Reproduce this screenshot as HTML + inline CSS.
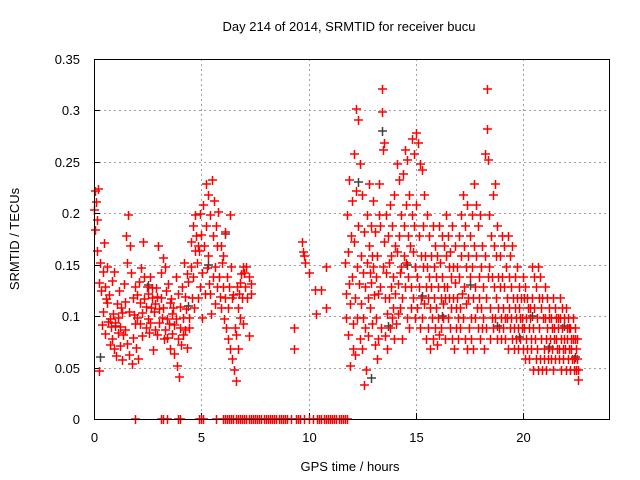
<!DOCTYPE html>
<html><head><meta charset="utf-8"><style>
body{margin:0;background:#fff}
svg{display:block;font-family:"Liberation Sans",sans-serif}
</style></head><body>
<svg id="chart" width="640" height="480" xmlns="http://www.w3.org/2000/svg">
<rect width="640" height="480" fill="#fff"/>
<text x="349" y="31" font-size="13" text-anchor="middle">Day 214 of 2014, SRMTID for receiver bucu</text>
<text x="0" y="0" font-size="13" text-anchor="middle" transform="translate(19,239) rotate(-90)">SRMTID / TECUs</text>
<text x="350" y="471" font-size="13" text-anchor="middle">GPS time / hours</text>
<g id="grid"></g>
<g id="ticks"></g>
<g id="gray"></g>
<g id="red"></g>
<rect x="94.5" y="59.5" width="515" height="360" fill="none" stroke="#000" stroke-width="1"/>
</svg>
<script>
const xTicks=[0,5,10,15,20];
const yTicks=[0,0.05,0.1,0.15,0.2,0.25,0.3,0.35];
const yTickLabels=["0","0.05","0.1","0.15","0.2","0.25","0.3","0.35"];
const binTimes=[0.0,0.1,0.2,0.3,0.4,0.5,0.6,0.7,0.8,0.9,1.0,1.1,1.2,1.3,1.4,1.5,1.6,1.7,1.8,1.9,2.0,2.1,2.2,2.3,2.4,2.5,2.6,2.7,2.8,2.9,3.0,3.1,3.2,3.3,3.4,3.5,3.6,3.7,3.8,3.9,4.0,4.1,4.2,4.3,4.4,4.5,4.6,4.7,4.8,4.9,5.0,5.1,5.2,5.3,5.4,5.5,5.6,5.7,5.8,5.9,6.0,6.1,6.2,6.3,6.4,6.5,6.6,6.7,6.8,6.9,7.0,7.1,7.2,7.3,
9.3,9.7,9.8,10.0,10.3,10.6,10.8,
11.7,11.8,11.9,12.0,12.1,12.2,12.3,12.4,12.5,12.6,12.7,12.8,12.9,13.0,13.1,13.2,13.3,13.4,13.5,13.6,13.7,13.8,13.9,14.0,14.1,14.2,14.3,14.4,14.5,14.6,14.7,14.8,14.9,15.0,15.1,15.2,15.3,15.4,15.5,15.6,15.7,15.8,15.9,16.0,16.1,16.2,16.3,16.4,16.5,16.6,16.7,16.8,16.9,17.0,17.1,17.2,17.3,17.4,17.5,17.6,17.7,17.8,17.9,18.0,18.1,18.2,18.3,18.4,18.5,18.6,18.7,18.8,18.9,19.0,19.1,19.2,19.3,19.4,19.5,19.6,19.7,19.8,19.9,20.0,20.1,20.2,20.3,20.4,20.5,20.6,20.7,20.8,20.9,21.0,21.1,21.2,21.3,21.4,21.5,21.6,21.7,21.8,21.9,22.0,22.1,22.2,22.3,22.4,22.5];
const binValues=[
[.203,.184,.222],[.211,.193,.163],[.224,.047,.132],[.152,.124,.091],[.143,.104,.171],[.128,.083,.117],[.113,.148,.094],[.121,.097,.072],[.089,.134,.078],[.102,.068,.143],
[.093,.061,.112],[.084,.098,.124],[.071,.089,.108],[.103,.057,.082],[.131,.087,.114],[.178,.152,.073],[.198,.104,.062],[.168,.142,.053],[.118,.079,.101],[.092,.128,.069],
[.098,.121,.058],[.133,.092,.113],[.147,.103,.081],[.172,.117,.138],[.109,.088,.128],[.122,.097,.084],[.138,.093,.108],[.118,.127,.067],[.104,.112,.087],[.127,.082,.119],
[.168,.093,.107],[.142,.118,.098],[.157,.108,.078],[.148,.087,.124],[.097,.079,.131],[.092,.113,.068],[.117,.083,.102],[.108,.063,.091],[.138,.097,.052],[.122,.078,.041],
[.088,.109,.072],[.128,.082,.098],[.152,.119,.087],[.107,.069,.141],[.133,.098,.088],[.172,.148,.118],[.188,.138,.108],[.198,.163,.178],[.152,.118,.168],[.163,.199,.128],
[.179,.142,.098],[.208,.168,.122],[.228,.188,.147],[.218,.158,.131],[.198,.122,.102],[.232,.178,.138],[.212,.148,.112],[.188,.128,.168],[.201,.138,.119],[.168,.108,.152],
[.158,.128,.097],[.118,.182,.088],[.138,.078,.108],[.128,.068,.198],[.148,.058,.118],[.121,.048,.088],[.082,.037,.128],[.068,.108,.122],[.132,.098,.141],[.118,.148,.092],
[.142,.128],[.148,.118],[.138,.081],[.131,.122],
[.088,.068],[.172,.162],[.158,.152],[.142],[.125,.102],[.125],[.108,.148],
[.152,.122,.098],[.198,.162,.082,.131],[.232,.112,.052,.178],[.212,.138,.068,.092],[.258,.172,.118,.062],[.301,.222,.148,.098],[.291,.188,.131,.078],[.248,.158,.112,.068],[.218,.142,.098,.033],[.182,.128,.088,.048],
[.198,.152,.118,.081],[.228,.168,.108,.142],[.188,.132,.092,.158],[.212,.148,.121,.072],[.182,.138,.098,.058],[.158,.122,.078,.198],[.228,.188,.128,.088],[.321,.298,.262,.148],[.268,.172,.118,.081],[.198,.142,.102,.068],
[.178,.152,.118,.088],[.208,.158,.128,.098],[.188,.138,.108,.078],[.218,.168,.122,.092],[.248,.162,.131,.102],[.232,.178,.142,.108],[.198,.148,.118,.078],[.238,.188,.158,.128],[.262,.208,.152,.098],[.252,.178,.138,.088],
[.218,.168,.128,.108],[.272,.198,.162,.118],[.258,.188,.148,.098],[.278,.208,.138,.108],[.268,.178,.128,.088],[.248,.158,.118,.098],[.242,.188,.148,.112],[.218,.158,.128,.078],[.198,.148,.118,.088],[.178,.138,.108,.068],
[.158,.128,.098,.078],[.188,.148,.118,.088],[.168,.138,.108,.072],[.158,.128,.098,.082],[.188,.152,.118,.088],[.178,.138,.112,.098],[.168,.128,.118,.078],[.198,.158,.128,.098],[.178,.148,.118,.088],[.162,.138,.108,.078],
[.188,.148,.118,.068],[.168,.132,.108,.088],[.148,.118,.098,.078],[.178,.138,.108,.088],[.198,.158,.122,.098],[.218,.168,.128,.078],[.188,.148,.112,.068],[.208,.158,.118,.088],[.178,.138,.098,.078],[.198,.148,.118,.068],
[.228,.168,.128,.098],[.208,.158,.108,.088],[.188,.138,.118,.078],[.198,.148,.108,.088],[.168,.128,.098,.068],[.258,.158,.118,.088],[.321,.282,.252,.138],[.198,.148,.108,.078],[.178,.138,.098,.088],[.218,.168,.128,.098],
[.228,.158,.118,.078],[.188,.138,.108,.088],[.158,.128,.098,.078],[.178,.138,.108,.088],[.168,.128,.098,.078],[.148,.118,.098,.068],[.178,.138,.108,.088],[.158,.128,.098,.078],[.168,.118,.088,.068],[.138,.108,.098,.078],
[.148,.118,.088,.068],[.128,.108,.078,.098],[.118,.098,.088,.068],[.138,.118,.088,.058],[.128,.098,.078,.068],[.118,.108,.088,.058],[.108,.098,.078,.068],[.148,.118,.088,.048],[.138,.108,.078,.058],[.128,.098,.068,.048],
[.148,.118,.088,.058],[.138,.108,.078,.048],[.118,.098,.068,.058],[.128,.098,.078,.048],[.118,.088,.068,.058],[.108,.098,.078,.058],[.098,.088,.068,.048],[.118,.088,.078,.058],[.108,.098,.078,.068],[.098,.088,.068,.058],
[.118,.098,.078,.048],[.108,.088,.068,.058],[.098,.078,.068,.048],[.108,.088,.078,.058],[.098,.088,.068,.048],[.088,.078,.068,.058],[.098,.078,.058,.048],[.088,.078,.068,.048],[.078,.058,.048,.038]];
const zeroTimes=[1.9,3.1,3.2,3.4,3.9,4.0,4.9,5.0,5.1,5.7,6.0,6.1,6.2,6.3,6.4,6.5,6.6,6.7,6.8,6.9,7.0,7.1,7.2,7.3,7.4,7.5,7.6,7.7,7.8,7.9,8.0,8.1,8.2,8.3,8.4,8.5,8.6,8.7,8.8,8.9,9.0,9.2,9.4,9.5,9.6,9.8,10.0,10.2,10.4,10.5,10.6,10.7,10.8,10.9,11.0,11.1,11.2,11.3,11.4,11.5,11.6,11.7,11.8];
const grayTimes=[0.3,1.0,2.5,4.4,5.3,6.1,12.3,12.9,13.4,13.7,14.6,15.3,16.2,17.5,18.8,19.8,20.4,21.2,21.9,22.4];
const grayValues=[0.06,0.09,0.13,0.11,0.15,0.18,0.23,0.04,0.28,0.09,0.15,0.12,0.10,0.13,0.09,0.08,0.10,0.07,0.09,0.06];

const X0=94,X1=609,Y0=419,Y1=59,XMAX=24,YMAX=0.35;
const xs=t=>X0+(X1-X0)*t/XMAX;
const ys=v=>Y0-(Y0-Y1)*v/YMAX;
const NS="http://www.w3.org/2000/svg";
function mk(tag,parent){const e=document.createElementNS(NS,tag);parent.appendChild(e);return e;}
const grid=document.getElementById('grid'),ticks=document.getElementById('ticks');
yTicks.forEach((v,i)=>{
  const y=Math.round(ys(v))+0.5;
  if(i>0&&i<yTicks.length-1){const l=mk('line',grid);
    
    
    l.setAttribute('x1',X0);l.setAttribute('x2',X1);l.setAttribute('y1',y);l.setAttribute('y2',y);
    l.setAttribute('stroke','#a0a0a0');l.setAttribute('stroke-dasharray','2,3');}
  const t=mk('text',ticks);
  
  
  t.setAttribute('x',80);t.setAttribute('y',y+4.5);t.setAttribute('font-size','13');t.setAttribute('text-anchor','end');
  t.textContent=yTickLabels[i];
  const k=mk('line',ticks);
  
  
  k.setAttribute('x1',X0);k.setAttribute('x2',X0+6);k.setAttribute('y1',y);k.setAttribute('y2',y);k.setAttribute('stroke','#000');
});
xTicks.forEach(v=>{
  const x=Math.round(xs(v))+0.5;
  if(v>0){const l=mk('line',grid);
    
    
    l.setAttribute('x1',x);l.setAttribute('x2',x);l.setAttribute('y1',Y1);l.setAttribute('y2',Y0);
    l.setAttribute('stroke','#a0a0a0');l.setAttribute('stroke-dasharray','2,3');}
  const t=mk('text',ticks);
  
  
  t.setAttribute('x',x);t.setAttribute('y',442);t.setAttribute('font-size','13');t.setAttribute('text-anchor','middle');
  t.textContent=String(v);
  const k=mk('line',ticks);
  
  
  k.setAttribute('x1',x);k.setAttribute('x2',x);k.setAttribute('y1',Y0);k.setAttribute('y2',Y0-6);k.setAttribute('stroke','#000');
});
function plus(parent,t,v,color,name){
  const x=Math.round(xs(t)),y=Math.round(ys(v));
  const p=mk('path',parent);
  
  
  p.setAttribute('d',`M${x-4},${y-0.75}h9v1.5h-9zM${x-0.25},${y-4}h1.5v9h-1.5z`);
  p.setAttribute('fill',color);p.setAttribute('stroke','none');
}
const gray=document.getElementById('gray'),red=document.getElementById('red');
grayTimes.forEach((t,i)=>plus(gray,t,grayValues[i],'#404040','gray-point'));
binTimes.forEach((t,i)=>binValues[i].forEach((v,j)=>plus(red,t+j*0.025,v,'#ff0000','srmtid-point')));
zeroTimes.forEach(t=>plus(red,t,0,'#ff0000','zero-point'));
</script>
</body></html>
